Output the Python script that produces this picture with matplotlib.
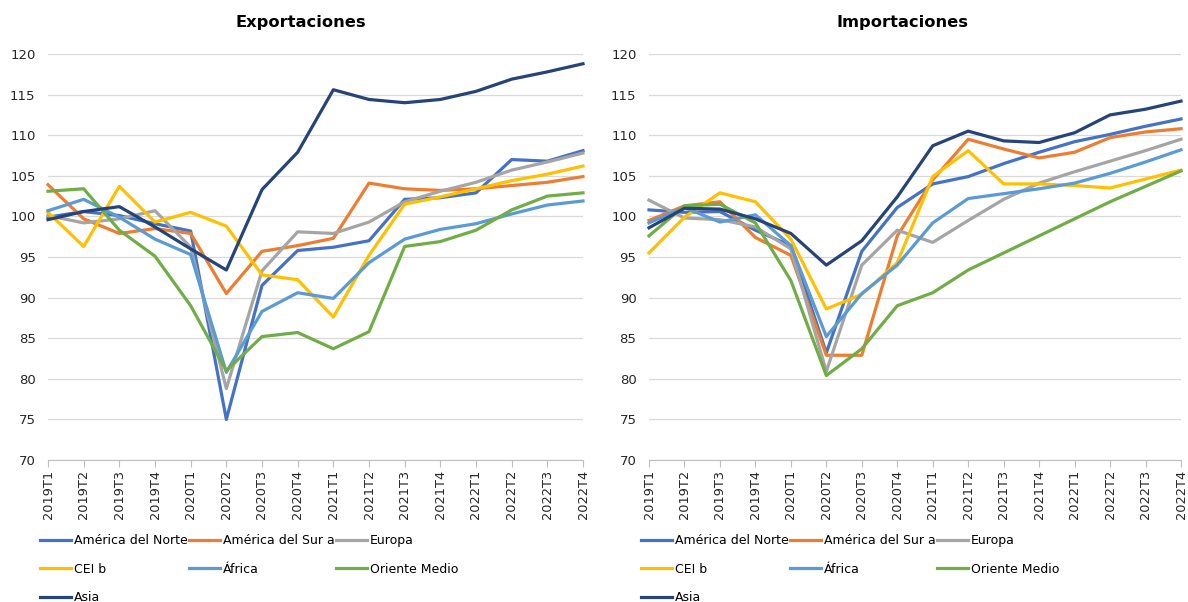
import matplotlib.pyplot as plt
from matplotlib.lines import Line2D

# Trimestres 2019T1 .. 2022T4
quarters = [f"{y}T{q}" for y in range(2019, 2023) for q in range(1, 5)]

regions = ["América del Norte", "América del Sur a", "Europa", "CEI b",
           "África", "Oriente Medio", "Asia"]
colors = ["#4472C4", "#ED7D31", "#A5A5A5", "#FFC000",
          "#5B9BD5", "#70AD47", "#264478"]

# Exportaciones
exp_norte = [99.9, 100.6, 100.1, 99.1, 98.2, 75.0, 91.5, 95.8, 96.2, 97.0, 102.1, 102.3, 102.9, 107.0, 106.8, 108.1]
exp_sur = [103.9, 99.7, 97.9, 98.5, 97.9, 90.5, 95.7, 96.4, 97.3, 104.1, 103.4, 103.2, 103.4, 103.8, 104.2, 104.9]
exp_europa = [100.1, 99.2, 99.7, 100.7, 96.2, 78.8, 93.3, 98.1, 97.9, 99.3, 101.8, 103.1, 104.2, 105.7, 106.7, 107.8]
exp_cei = [100.5, 96.3, 103.7, 99.3, 100.5, 98.8, 92.8, 92.2, 87.6, 95.2, 101.5, 102.4, 103.4, 104.4, 105.2, 106.2]
exp_africa = [100.7, 102.1, 99.9, 97.2, 95.3, 80.8, 88.3, 90.6, 89.9, 94.3, 97.2, 98.4, 99.1, 100.3, 101.4, 101.9]
exp_oriente = [103.1, 103.4, 98.3, 95.1, 89.0, 81.0, 85.2, 85.7, 83.7, 85.8, 96.3, 96.9, 98.3, 100.8, 102.5, 102.9]
exp_asia = [99.6, 100.6, 101.2, 98.7, 96.0, 93.4, 103.3, 107.9, 115.6, 114.4, 114.0, 114.4, 115.4, 116.9, 117.8, 118.8]

# Importaciones
imp_norte = [100.8, 100.5, 100.6, 98.3, 96.4, 83.2, 95.7, 101.1, 104.0, 104.9, 106.5, 107.9, 109.2, 110.1, 111.1, 112.0]
imp_sur = [99.5, 101.3, 101.8, 97.4, 95.2, 82.9, 82.9, 97.6, 104.5, 109.5, 108.3, 107.2, 107.9, 109.7, 110.4, 110.8]
imp_europa = [102.0, 99.8, 99.6, 98.7, 96.0, 80.9, 94.0, 98.3, 96.8, 99.5, 102.1, 104.1, 105.5, 106.8, 108.1, 109.5]
imp_cei = [95.5, 99.9, 102.9, 101.8, 97.2, 88.6, 90.4, 94.3, 104.9, 108.1, 104.0, 104.0, 103.8, 103.5, 104.6, 105.7]
imp_africa = [99.2, 101.1, 99.3, 100.2, 96.4, 85.2, 90.5, 94.0, 99.2, 102.2, 102.8, 103.4, 104.1, 105.3, 106.7, 108.2]
imp_oriente = [97.6, 101.3, 101.5, 99.2, 92.1, 80.4, 83.7, 89.0, 90.6, 93.4, 95.5, 97.6, 99.7, 101.8, 103.7, 105.6]
imp_asia = [98.6, 101.0, 100.9, 99.7, 97.9, 94.0, 97.0, 102.4, 108.7, 110.5, 109.3, 109.1, 110.3, 112.5, 113.2, 114.2]

exports = [exp_norte, exp_sur, exp_europa, exp_cei, exp_africa, exp_oriente, exp_asia]
imports = [imp_norte, imp_sur, imp_europa, imp_cei, imp_africa, imp_oriente, imp_asia]

plt.rcParams['font.family'] = ['DejaVu Sans']

fig = plt.figure(figsize=(11.88, 6.02), dpi=100)
W, H = 1188, 602


def draw_panel(left_px, width_px, series, title, title_x):
    ax = fig.add_axes([left_px / W, 1 - 460 / H, width_px / W, 406 / H])
    x = range(len(quarters))
    for vals, c in zip(series, colors):
        ax.plot(x, vals, color=c, lw=2.3, clip_on=False)
    ax.set_xlim(0, len(quarters) - 1)
    ax.set_ylim(70, 120)
    ax.set_yticks(range(70, 121, 5))
    ax.set_xticks(list(x))
    ax.set_xticklabels(quarters, rotation=90, fontsize=9.3, color="#262626")
    ax.tick_params(axis='y', length=0, pad=9, labelsize=9.5, labelcolor="#262626")
    ax.tick_params(axis='x', length=5, width=0.8, color="#BFBFBF", pad=2)
    ax.grid(axis='y', color="#D9D9D9", lw=0.9)
    ax.set_axisbelow(True)
    for s in ['left', 'right', 'top']:
        ax.spines[s].set_visible(False)
    ax.spines['bottom'].set_color("#BFBFBF")
    fig.text(title_x / W, 1 - 22 / H, title, ha='center', va='center',
             fontsize=11.7, fontweight='bold')

    # legend, filled row by row like Excel
    handles = [Line2D([], [], color=c, lw=2.3) for c in colors]
    order = [0, 3, 6, 1, 4, 2, 5]
    fig.legend([handles[i] for i in order], [regions[i] for i in order],
               loc='upper left', bbox_to_anchor=((left_px - 8) / W, 1 - 534 / H),
               ncol=3, frameon=False, fontsize=9, handlelength=2.5,
               handletextpad=0.2, columnspacing=0.12, labelspacing=1.25,
               borderpad=0, borderaxespad=0)
    return ax


draw_panel(48, 535, exports, "Exportaciones", 301)
draw_panel(649, 532, imports, "Importaciones", 902)

fig.savefig("out.png", dpi=100)
